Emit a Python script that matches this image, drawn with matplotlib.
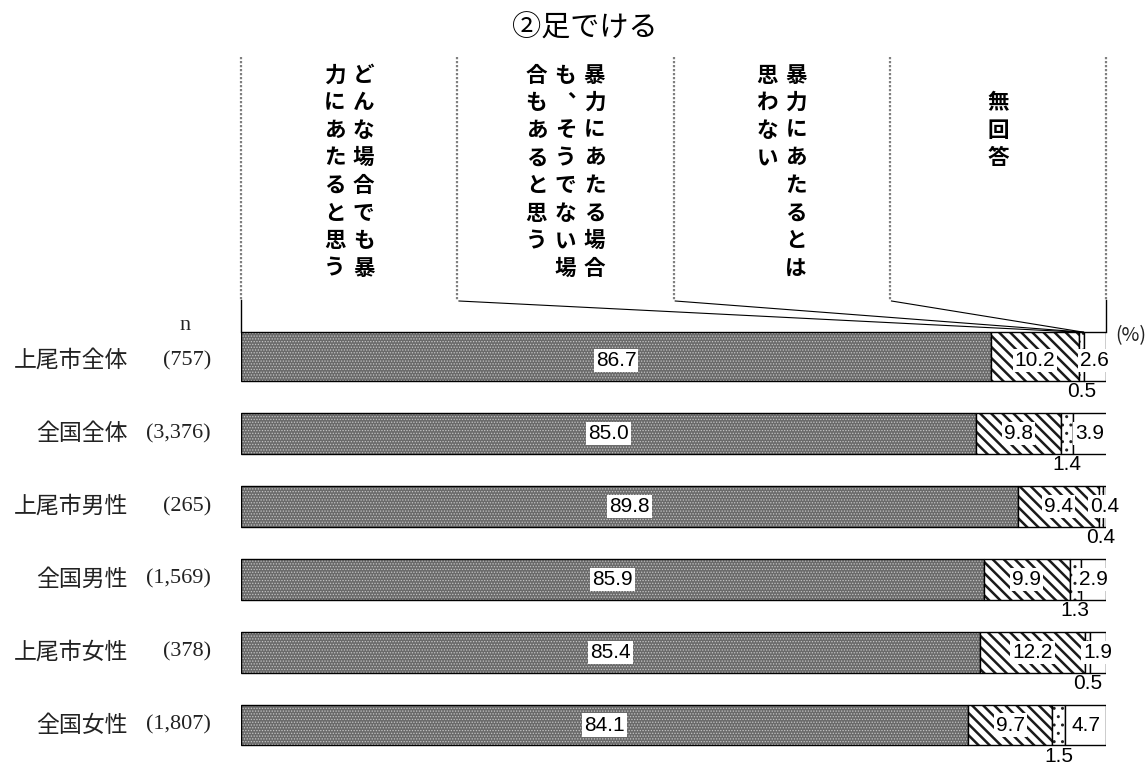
import numpy as np
import matplotlib
matplotlib.use("Agg")
import matplotlib.pyplot as plt

plt.rcParams['font.family'] = ['Noto Sans CJK JP', 'DejaVu Sans']

# data
names = ["上尾市全体", "全国全体", "上尾市男性", "全国男性", "上尾市女性", "全国女性"]
counts = ["(757)", "(3,376)", "(265)", "(1,569)", "(378)", "(1,807)"]
header_labels = ["どんな場合でも暴力にあたると思う",
                 "暴力にあたる場合も、そうでない場合もあると思う",
                 "暴力にあたるとは思わない",
                 "　無回答"]
always = [86.7, 85.0, 89.8, 85.9, 85.4, 84.1]
depends = [10.2, 9.8, 9.4, 9.9, 12.2, 9.7]
never = [0.5, 1.4, 0.4, 1.3, 0.5, 1.5]
no_answer = [2.6, 3.9, 0.4, 2.9, 1.9, 4.7]
title = "②足でける"

fig = plt.figure(figsize=(11.46, 7.65), dpi=100)
Y0, ROW = 360.6, 72.9          # pixel centre of first row, pixels per row
ax = fig.add_axes([241 / 1146, (765 - 761.5) / 765, 865 / 1146, 441 / 765])
ax.set_xlim(0, 100)
ax.set_ylim(5.5, -0.55)
ax.axis('off')


def py(px):
    return (px - Y0) / ROW


def px2x(px):
    return (px - 241) / 8.65


y = np.arange(len(names))
heights = np.full(len(names), 0.56)
heights[0] = 0.67
yc = y + 0.28 - heights / 2

styles = [
    dict(face='#6a6a6a', hc='#c4c4c4', hatch='......', hlw=0.6),
    dict(face='white', hc='#1a1a1a', hatch='\\\\\\', hlw=1.8),
    dict(face='white', hc='#222222', hatch='..', hlw=1.0),
    dict(face='white', hc='black', hatch=None, hlw=1.0),
]

left = np.zeros(len(names))
lefts = []
for vals, st in zip([always, depends, never, no_answer], styles):
    vals = np.array(vals)
    with plt.rc_context({'hatch.linewidth': st['hlw']}):
        ax.barh(yc, vals, height=heights, left=left, color=st['face'],
                edgecolor=st['hc'], hatch=st['hatch'], linewidth=0)
    ax.barh(yc, vals, height=heights, left=left, fill=False,
            edgecolor='black', linewidth=1)
    lefts.append(left.copy())
    left += vals

box = dict(facecolor='white', edgecolor='none', pad=1.5)
lab_kw = dict(ha='center', va='center', fontsize=15,
              family=['Liberation Sans', 'DejaVu Sans'])
for i in range(len(names)):
    ax.text(lefts[0][i] + always[i] / 2, i, f"{always[i]:.1f}", bbox=box, **lab_kw)
    ax.text(lefts[1][i] + depends[i] / 2, i, f"{depends[i]:.1f}", bbox=box, **lab_kw)
    ax.text(lefts[2][i] + never[i] / 2, i + 0.28 + 11 / ROW, f"{never[i]:.1f}",
            clip_on=False, **lab_kw)
    ax.text(lefts[3][i] + no_answer[i] / 2, i, f"{no_answer[i]:.1f}", bbox=box,
            clip_on=False, **lab_kw)
    ax.text(px2x(128), i, names[i], ha='right', va='center', fontsize=16.5,
            color='#222222', clip_on=False)
    ax.text(px2x(211), i, counts[i], ha='right', va='center', fontsize=16,
            family=['Liberation Serif', 'DejaVu Serif'], color='#222222', clip_on=False)

ax.text(px2x(185), py(326), "n", ha='center', va='center', fontsize=16,
        family=['Liberation Serif', 'DejaVu Serif'], color='#222222', clip_on=False)
ax.text(px2x(1131), py(336), "(%)", ha='center', va='center', fontsize=14,
        color='#222222', clip_on=False)

# header frame
bar_top = yc[0] - heights[0] / 2
for k in range(5):
    ax.plot([25 * k, 25 * k], [py(57), py(300)], color='#808080', lw=1.6,
            ls=(0, (1, 0.8)), clip_on=False)
for xk in (0, 100):
    ax.plot([xk, xk], [py(300), bar_top], color='black', lw=1, clip_on=False)

b1 = always[0] + depends[0]
b2 = b1 + never[0]
for k, target in zip((1, 2, 3), (b1, b2, b2)):
    ax.plot([25 * k + 0.2, target], [py(301), bar_top], color='black', lw=0.8,
            clip_on=False)

# vertical header text
col_sp = 29 / 8.65
for k, lab in enumerate(header_labels):
    lab = lab.replace('、', '︑')
    cols = [lab[j:j + 8] for j in range(0, len(lab), 8)]
    n = len(cols)
    for c, txt in enumerate(cols):
        xc = 12.5 + 25 * k + ((n - 1) / 2 - c) * col_sp
        for r, ch in enumerate(txt):
            if ch == '　':
                continue
            ax.text(xc, py(75 + r * 27.6), ch, ha='center', va='center',
                    fontsize=15.5, weight='bold', clip_on=False)

fig.text(585 / 1146, 1 - 29 / 765, title, ha='center', va='center', fontsize=21)

fig.savefig('out.png', dpi=100)
